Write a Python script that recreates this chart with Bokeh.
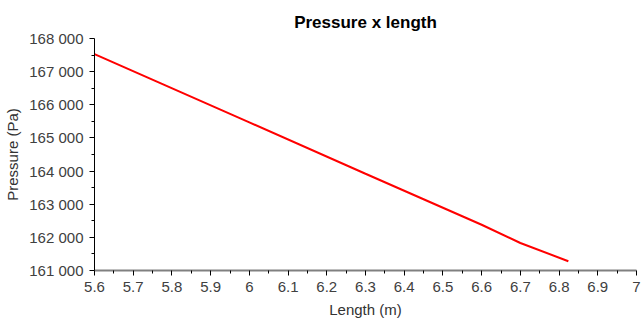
from bokeh.plotting import figure
from bokeh.models import Range1d, CustomJSTickFormatter, FixedTicker
from bokeh.embed import file_html
from bokeh.resources import INLINE

length_m = [5.6, 6.0, 6.3, 6.6, 6.7, 6.824]
pressure_pa = [167530, 165470, 163920, 162380, 161830, 161280]

x_ticks = [5.6, 5.7, 5.8, 5.9, 6.0, 6.1, 6.2, 6.3, 6.4, 6.5, 6.6, 6.7, 6.8, 6.9, 7.0]
y_ticks = [161000, 162000, 163000, 164000, 165000, 166000, 167000, 168000]

FONT = "Liberation Sans"

p = figure(width=641, height=327, output_backend="svg", toolbar_location=None,
           x_range=Range1d(5.6, 7.0), y_range=Range1d(161000, 168000),
           min_border_left=94, min_border_right=5, min_border_top=38, min_border_bottom=57,
           title="Pressure x length")

p.line(length_m, pressure_pa, line_color="red", line_width=2)

p.title.align = "center"
p.title.text_font = FONT
p.title.text_font_size = "17px"
p.title.text_font_style = "bold"
p.title.text_color = "black"
p.title.standoff = 14

p.outline_line_color = None
p.xgrid.visible = False
p.ygrid.visible = False

p.xaxis.axis_label = "Length (m)"
p.yaxis.axis_label = "Pressure (Pa)"

for ax in (p.xaxis[0], p.yaxis[0]):
    ax.axis_label_text_font = FONT
    ax.axis_label_text_font_size = "15px"
    ax.axis_label_text_font_style = "normal"
    ax.axis_label_text_color = "#333333"
    ax.major_label_text_font = FONT
    ax.major_label_text_font_size = "15px"
    ax.major_label_text_color = "#404040"
    ax.major_tick_out = 5
    ax.major_tick_in = 0
    ax.minor_tick_out = 3
    ax.minor_tick_in = 0
    ax.major_tick_line_color = "black"
    ax.minor_tick_line_color = "black"

p.xaxis.ticker = FixedTicker(ticks=x_ticks, minor_ticks=[t + 0.05 for t in x_ticks[:-1]])
p.yaxis.ticker = FixedTicker(ticks=y_ticks, minor_ticks=[t + 500 for t in y_ticks[:-1]])

p.xaxis.axis_line_color = "#808080"
p.xaxis.axis_line_width = 2
p.yaxis.axis_line_color = "black"
p.yaxis.axis_line_width = 1

p.xaxis.formatter = CustomJSTickFormatter(code="return String(Number(tick.toFixed(1)));")
p.yaxis.formatter = CustomJSTickFormatter(
    code="return Math.round(tick).toString().replace(/\\B(?=(\\d{3})+(?!\\d))/g, ' ');")

p.xaxis.major_label_standoff = 6
p.yaxis.major_label_standoff = 6
p.xaxis.axis_label_standoff = 6
p.yaxis.axis_label_standoff = 5

open("out.html", "w").write(file_html(p, INLINE))
